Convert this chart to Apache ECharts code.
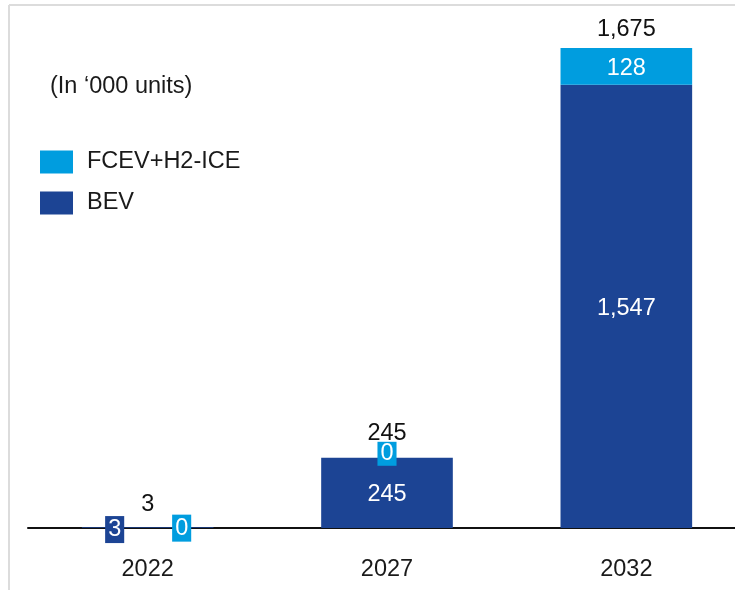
<!DOCTYPE html>
<html>
<head>
<meta charset="utf-8">
<script src="https://cdn.jsdelivr.net/npm/echarts@6/dist/echarts.min.js"></script>
<style>
  html, body { margin: 0; padding: 0; background: #fff; overflow: hidden; }
  #main { width: 746px; height: 590px; }
</style>
</head>
<body>
<div id="main"></div>
<script>
var years = ["2022", "2027", "2032"];
var bev = [3, 245, 1547];
var fcev = [0, 0, 128];
var totals = [3, 245, 1675];

var BEV_COLOR = "#1c4494";
var FCEV_COLOR = "#009ddf";
var FONT = "Liberation Sans, Arial, sans-serif";
var FS = 23.5;

function fmt(v) {
  return Number(v).toLocaleString("en-US");
}

var myChart = echarts.init(document.getElementById("main"));

// small boxed labels for the tiny / zero segments
var bevData = bev.map(function (v, i) {
  if (i === 0) {
    return {
      value: v,
      label: {
        offset: [-33, 2],
        backgroundColor: BEV_COLOR,
        padding: [2, 3, 1, 3],
      },
    };
  }
  return v;
});
var fcevData = fcev.map(function (v, i) {
  if (i === 0) {
    return {
      value: v,
      label: {
        offset: [34, 1],
        backgroundColor: FCEV_COLOR,
        padding: [2, 3, 1, 3],
      },
    };
  }
  if (i === 1) {
    return {
      value: v,
      label: {
        offset: [0, -4],
        backgroundColor: FCEV_COLOR,
        padding: [0, 3, 0, 3],
      },
    };
  }
  return v;
});
var totalDist = [10, 12, 6];
var totalData = totals.map(function (v, i) {
  return { value: [years[i], v], label: { distance: totalDist[i] } };
});

myChart.setOption({
  animation: false,
  textStyle: { fontFamily: FONT },
  graphic: [
    {
      type: "line",
      shape: { x1: 9, y1: 5, x2: 746, y2: 5 },
      style: { stroke: "#dcdcdc", lineWidth: 2 },
    },
    {
      type: "line",
      shape: { x1: 9, y1: 5, x2: 9, y2: 590 },
      style: { stroke: "#dcdcdc", lineWidth: 2 },
    },
    {
      type: "text",
      left: 50,
      top: 75,
      style: {
        text: "(In \u2018000 units)",
        fontSize: FS,
        fontFamily: FONT,
        fill: "#1a1a1a",
      },
    },
  ],
  legend: {
    orient: "vertical",
    left: 40,
    top: 150,
    padding: 0,
    itemWidth: 33,
    itemHeight: 23,
    itemGap: 17,
    icon: "rect",
    data: ["FCEV+H2-ICE", "BEV"],
    textStyle: { fontSize: FS, color: "#1a1a1a", fontFamily: FONT, padding: [2, 0, 0, 9] },
  },
  grid: {
    left: 28,
    top: 48,
    right: 0,
    bottom: 62,
    containLabel: false,
  },
  xAxis: {
    type: "category",
    data: years,
    axisLine: { lineStyle: { color: "#111", width: 2 } },
    axisTick: { show: false },
    axisLabel: { fontSize: FS, color: "#1a1a1a", margin: 30, fontFamily: FONT },
  },
  yAxis: {
    type: "value",
    min: 0,
    max: 1675,
    show: false,
    splitLine: { show: false },
  },
  series: [
    {
      name: "BEV",
      type: "bar",
      stack: "total",
      barWidth: "55%",
      data: bevData,
      itemStyle: { color: BEV_COLOR },
      label: {
        show: true,
        position: "inside",
        offset: [0, 2],
        color: "#fff",
        fontSize: FS,
        fontFamily: FONT,
        formatter: function (p) { return fmt(p.value); },
      },
      z: 2,
    },
    {
      name: "FCEV+H2-ICE",
      type: "bar",
      stack: "total",
      barWidth: "55%",
      data: fcevData,
      itemStyle: { color: FCEV_COLOR },
      label: {
        show: true,
        position: "inside",
        offset: [0, 2],
        color: "#fff",
        fontSize: FS,
        fontFamily: FONT,
        formatter: function (p) { return fmt(p.value); },
      },
      z: 3,
    },
    {
      name: "Total",
      type: "scatter",
      symbolSize: 1,
      itemStyle: { color: "transparent", opacity: 1 },
      data: totalData,
      label: {
        show: true,
        position: "top",
        color: "#111",
        fontSize: FS,
        fontFamily: FONT,
        formatter: function (p) { return fmt(p.value[1]); },
      },
      silent: true,
      z: 4,
    },
  ],
});
</script>
</body>
</html>
